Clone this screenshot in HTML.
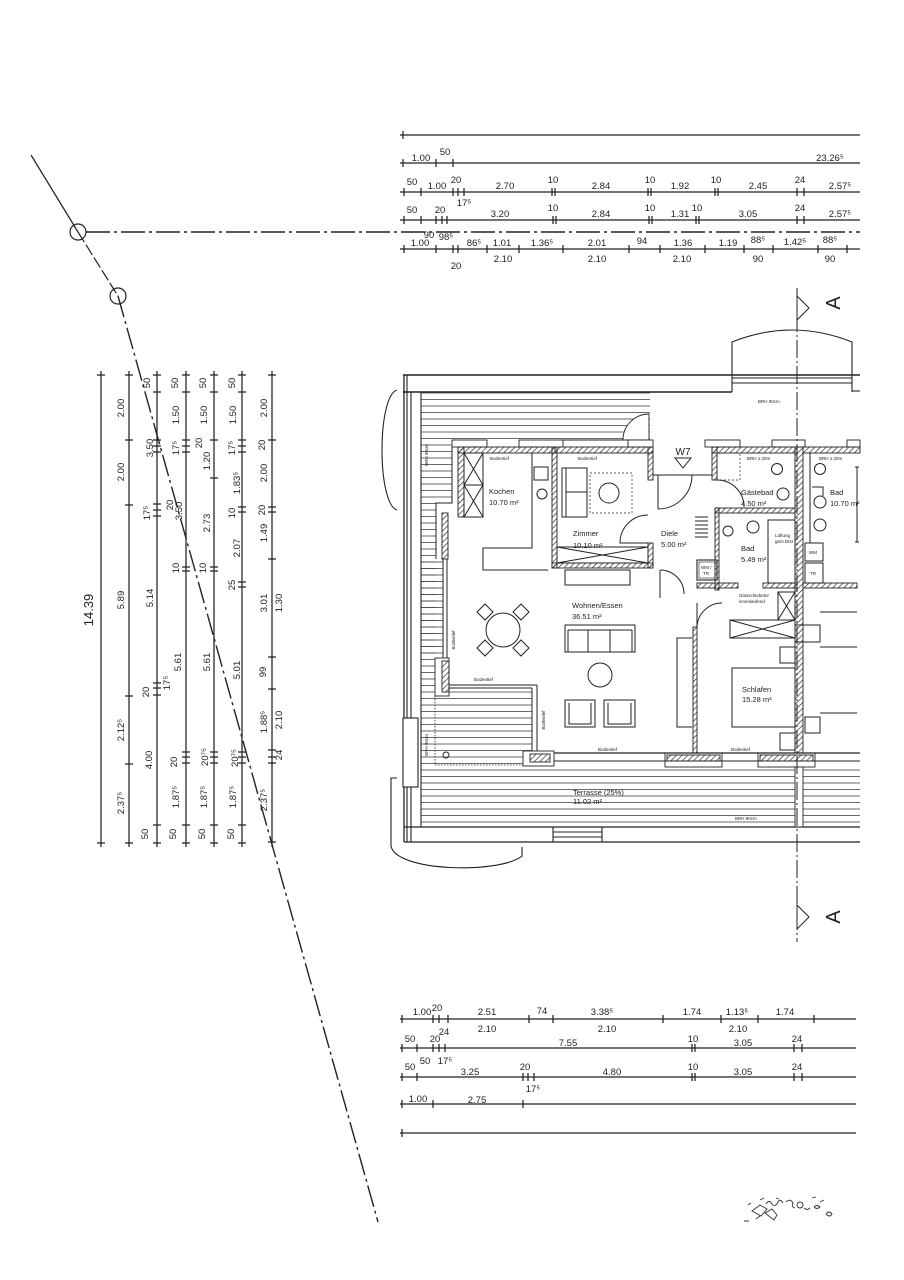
<!DOCTYPE html>
<html><head><meta charset="utf-8"><style>
html,body{margin:0;padding:0;background:#fff;}
svg{display:block;}
text{font-family:"Liberation Sans",sans-serif;fill:#222;}
.d{font-size:9.5px;text-anchor:middle;}
.r{font-size:7.5px;}
.s{font-size:4.5px;}
</style></head><body>
<svg width="904" height="1280" viewBox="0 0 904 1280" xmlns="http://www.w3.org/2000/svg">
<defs>
<pattern id="dh" width="4" height="4" patternUnits="userSpaceOnUse" patternTransform="rotate(45)"><line x1="0" y1="0" x2="0" y2="4" stroke="#222" stroke-width="1.3"/></pattern>
<pattern id="hl" width="8" height="6.5" patternUnits="userSpaceOnUse"><line x1="0" y1="3" x2="8" y2="3" stroke="#444" stroke-width="0.8"/></pattern>
</defs>
<rect width="904" height="1280" fill="#fff"/>

<!-- diagonal reference line -->
<g stroke="#222" fill="none" stroke-width="1.2">
<line x1="31" y1="155" x2="78" y2="232"/>
<circle cx="78" cy="232" r="8"/>
<line x1="78" y1="232" x2="118" y2="296" stroke-dasharray="12 3"/>
<circle cx="118" cy="296" r="8"/>
<line x1="118" y1="296" x2="378" y2="1222" stroke-width="1.4" stroke-dasharray="22 4 3 4"/>
<line x1="86" y1="232" x2="860" y2="232" stroke-width="1.5" stroke-dasharray="24 4 3 4"/>
</g>

<!-- top dimension lines -->
<g stroke="#222" fill="none" stroke-width="1.25">
<line x1="400" y1="135" x2="860" y2="135"/>
<line x1="400" y1="163" x2="860" y2="163"/>
<line x1="400" y1="192" x2="860" y2="192"/>
<line x1="400" y1="220" x2="860" y2="220"/>
<line x1="400" y1="249" x2="860" y2="249"/>
<path d="M403 131v8"/>
<path d="M403 159v8M436 159v8M453 159v8"/>
<path d="M404 188v8M421 188v8M453 188v8M458 188v8M464 188v8M552 188v8M555 188v8M648 188v8M651 188v8M715 188v8M718 188v8M797 188v8M804 188v8"/>
<path d="M404 216v8M421 216v8M436 216v8M442 216v8M447 216v8M553 216v8M556 216v8M649 216v8M652 216v8M696 216v8M699 216v8M797 216v8M804 216v8"/>
<path d="M404 245v8M436 245v8M453 245v8M458 245v8M487 245v8M519 245v8M563 245v8M629 245v8M660 245v8M705 245v8M744 245v8M773 245v8M818 245v8M847 245v8"/>
</g>
<g class="d">
<text class="d" x="421" y="161">1.00</text><text class="d" x="445" y="155">50</text><text class="d" x="830" y="161">23.26⁵</text>
<text class="d" x="412" y="185">50</text><text class="d" x="437" y="189">1.00</text><text class="d" x="456" y="183">20</text><text class="d" x="464" y="206">17⁵</text><text class="d" x="505" y="189">2.70</text><text class="d" x="553" y="183">10</text><text class="d" x="601" y="189">2.84</text><text class="d" x="650" y="183">10</text><text class="d" x="680" y="189">1.92</text><text class="d" x="716" y="183">10</text><text class="d" x="758" y="189">2.45</text><text class="d" x="800" y="183">24</text><text class="d" x="840" y="189">2.57⁵</text>
<text class="d" x="412" y="213">50</text><text class="d" x="440" y="213">20</text><text class="d" x="500" y="217">3.20</text><text class="d" x="553" y="211">10</text><text class="d" x="601" y="217">2.84</text><text class="d" x="650" y="211">10</text><text class="d" x="680" y="217">1.31</text><text class="d" x="697" y="211">10</text><text class="d" x="748" y="217">3.05</text><text class="d" x="800" y="211">24</text><text class="d" x="840" y="217">2.57⁵</text>
<text class="d" x="429" y="238">90</text><text class="d" x="446" y="240">98⁵</text>
<text class="d" x="420" y="246">1.00</text><text class="d" x="474" y="246">86⁵</text><text class="d" x="502" y="246">1.01</text><text class="d" x="542" y="246">1.36⁵</text><text class="d" x="597" y="246">2.01</text><text class="d" x="642" y="244">94</text><text class="d" x="683" y="246">1.36</text><text class="d" x="728" y="246">1.19</text><text class="d" x="758" y="243">88⁵</text><text class="d" x="795" y="245">1.42⁵</text><text class="d" x="830" y="243">88⁵</text>
<text class="d" x="456" y="269">20</text><text class="d" x="503" y="262">2.10</text><text class="d" x="597" y="262">2.10</text><text class="d" x="682" y="262">2.10</text><text class="d" x="758" y="262">90</text><text class="d" x="830" y="262">90</text>
</g>

<!-- left vertical dimension lines -->
<g stroke="#222" fill="none" stroke-width="1.25">
<line x1="101" y1="371" x2="101" y2="847"/>
<line x1="129" y1="371" x2="129" y2="847"/>
<line x1="157" y1="371" x2="157" y2="847"/>
<line x1="186" y1="371" x2="186" y2="847"/>
<line x1="214" y1="371" x2="214" y2="847"/>
<line x1="242" y1="371" x2="242" y2="847"/>
<line x1="272" y1="371" x2="272" y2="847"/>
<path d="M97 375h8M97 843h8"/>
<path d="M125 375h8M125 440h8M125 505h8M125 696h8M125 764h8M125 843h8"/>
<path d="M153 375h8M153 392h8M153 440h8M153 446h8M153 452h8M153 504h8M153 510h8M153 516h8M153 683h8M153 688h8M153 695h8M153 825h8M153 843h8"/>
<path d="M182 375h8M182 392h8M182 440h8M182 446h8M182 452h8M182 567h8M182 571h8M182 752h8M182 757h8M182 763h8M182 825h8M182 843h8"/>
<path d="M210 375h8M210 392h8M210 440h8M210 478h8M210 567h8M210 571h8M210 752h8M210 757h8M210 763h8M210 825h8M210 843h8"/>
<path d="M238 375h8M238 392h8M238 440h8M238 446h8M238 452h8M238 507h8M238 512h8M238 582h8M238 587h8M238 752h8M238 757h8M238 763h8M238 825h8M238 843h8"/>
<path d="M268 375h8M268 440h8M268 507h8M268 512h8M268 559h8M268 657h8M268 689h8M268 750h8M268 757h8M268 763h8M268 842h8"/>
</g>
<g>
<text class="d" style="font-size:13px" transform="translate(89,610) rotate(-90)" y="4">14.39</text>
<text class="d" transform="translate(121,408) rotate(-90)" y="3">2.00</text>
<text class="d" transform="translate(121,472) rotate(-90)" y="3">2.00</text>
<text class="d" transform="translate(121,600) rotate(-90)" y="3">5.89</text>
<text class="d" transform="translate(121,730) rotate(-90)" y="3">2.12⁵</text>
<text class="d" transform="translate(121,803) rotate(-90)" y="3">2.37⁵</text>

<text class="d" transform="translate(147,383) rotate(-90)" y="3">50</text>
<text class="d" transform="translate(150,448) rotate(-90)" y="3">3.50</text>
<text class="d" transform="translate(147,513) rotate(-90)" y="3">17⁵</text>
<text class="d" transform="translate(150,598) rotate(-90)" y="3">5.14</text>
<text class="d" transform="translate(146,692) rotate(-90)" y="3">20</text>
<text class="d" transform="translate(167,683) rotate(-90)" y="3">17⁵</text>
<text class="d" transform="translate(149,760) rotate(-90)" y="3">4.00</text>
<text class="d" transform="translate(145,834) rotate(-90)" y="3">50</text>

<text class="d" transform="translate(175,383) rotate(-90)" y="3">50</text>
<text class="d" transform="translate(176,415) rotate(-90)" y="3">1.50</text>
<text class="d" transform="translate(176,448) rotate(-90)" y="3">17⁵</text>
<text class="d" transform="translate(170,505) rotate(-90)" y="3">20</text>
<text class="d" transform="translate(179,511) rotate(-90)" y="3">3.50</text>
<text class="d" transform="translate(176,568) rotate(-90)" y="3">10</text>
<text class="d" transform="translate(178,662) rotate(-90)" y="3">5.61</text>
<text class="d" transform="translate(174,762) rotate(-90)" y="3">20</text>
<text class="d" transform="translate(176,797) rotate(-90)" y="3">1.87⁵</text>
<text class="d" transform="translate(173,834) rotate(-90)" y="3">50</text>

<text class="d" transform="translate(203,383) rotate(-90)" y="3">50</text>
<text class="d" transform="translate(204,415) rotate(-90)" y="3">1.50</text>
<text class="d" transform="translate(199,443) rotate(-90)" y="3">20</text>
<text class="d" transform="translate(207,461) rotate(-90)" y="3">1.20</text>
<text class="d" transform="translate(207,523) rotate(-90)" y="3">2.73</text>
<text class="d" transform="translate(203,568) rotate(-90)" y="3">10</text>
<text class="d" transform="translate(207,662) rotate(-90)" y="3">5.61</text>
<text class="d" transform="translate(205,757) rotate(-90)" y="3">20⁷⁵</text>
<text class="d" transform="translate(204,797) rotate(-90)" y="3">1.87⁵</text>
<text class="d" transform="translate(202,834) rotate(-90)" y="3">50</text>

<text class="d" transform="translate(232,383) rotate(-90)" y="3">50</text>
<text class="d" transform="translate(233,415) rotate(-90)" y="3">1.50</text>
<text class="d" transform="translate(232,448) rotate(-90)" y="3">17⁵</text>
<text class="d" transform="translate(237,483) rotate(-90)" y="3">1.83⁵</text>
<text class="d" transform="translate(232,513) rotate(-90)" y="3">10</text>
<text class="d" transform="translate(237,548) rotate(-90)" y="3">2.07</text>
<text class="d" transform="translate(232,585) rotate(-90)" y="3">25</text>
<text class="d" transform="translate(237,670) rotate(-90)" y="3">5.01</text>
<text class="d" transform="translate(235,758) rotate(-90)" y="3">20⁷⁵</text>
<text class="d" transform="translate(233,797) rotate(-90)" y="3">1.87⁵</text>
<text class="d" transform="translate(231,834) rotate(-90)" y="3">50</text>

<text class="d" transform="translate(264,408) rotate(-90)" y="3">2.00</text>
<text class="d" transform="translate(262,445) rotate(-90)" y="3">20</text>
<text class="d" transform="translate(264,473) rotate(-90)" y="3">2.00</text>
<text class="d" transform="translate(262,510) rotate(-90)" y="3">20</text>
<text class="d" transform="translate(264,533) rotate(-90)" y="3">1.49</text>
<text class="d" transform="translate(264,603) rotate(-90)" y="3">3.01</text>
<text class="d" transform="translate(279,603) rotate(-90)" y="3">1.30</text>
<text class="d" transform="translate(263,672) rotate(-90)" y="3">99</text>
<text class="d" transform="translate(264,722) rotate(-90)" y="3">1.88⁵</text>
<text class="d" transform="translate(279,720) rotate(-90)" y="3">2.10</text>
<text class="d" transform="translate(279,755) rotate(-90)" y="3">24</text>
<text class="d" transform="translate(264,800) rotate(-90)" y="3">2.37⁵</text>
</g>

<!-- ===== FLOOR PLAN ===== -->
<!-- terrace hatching -->
<rect x="421" y="392" width="229" height="48" fill="url(#hl)"/>
<rect x="421" y="440" width="31" height="63" fill="url(#hl)"/>
<rect x="421" y="503" width="15" height="188" fill="url(#hl)"/>
<rect x="421" y="559" width="22" height="99" fill="url(#hl)"/>
<rect x="421" y="688" width="111" height="79" fill="url(#hl)"/>
<rect x="421" y="767" width="439" height="60" fill="url(#hl)"/>
<path d="M649 440 L623 440 A26 26 0 0 1 649 414 Z" fill="#fff" stroke="#222" stroke-width="0.9"/>

<g stroke="#222" fill="none" stroke-width="1.1">
<!-- top band -->
<line x1="403" y1="375" x2="860" y2="375" stroke-width="1.4"/>
<line x1="403" y1="392" x2="732" y2="392" stroke-width="1.4"/>
<line x1="852" y1="391" x2="860" y2="391"/>
<path d="M732 392 V342 Q792 318 852 342 V392"/>
<line x1="732" y1="378" x2="852" y2="378"/>
<line x1="732" y1="383" x2="852" y2="383"/>
<!-- left band -->
<line x1="404" y1="375" x2="404" y2="842" stroke-width="1.3"/>
<line x1="407" y1="375" x2="407" y2="842"/>
<line x1="411" y1="392" x2="411" y2="842"/>
<line x1="421" y1="392" x2="421" y2="827"/>
<rect x="403" y="718" width="15" height="69" fill="#fff"/>
<path d="M397 390 C377 396, 377 504, 397 510"/>
<!-- bottom band -->
<line x1="404" y1="827" x2="860" y2="827" stroke-width="1.3"/>
<line x1="404" y1="842" x2="860" y2="842" stroke-width="1.3"/>
<line x1="553" y1="832" x2="602" y2="832"/>
<line x1="553" y1="837" x2="602" y2="837"/>
<line x1="553" y1="827" x2="553" y2="842"/>
<line x1="602" y1="827" x2="602" y2="842"/>
<path d="M397 778 H391 V846 C396 872, 500 874, 522 856 V847"/>
</g>

<!-- walls -->
<g stroke="#222" stroke-width="0.9">
<rect x="452" y="440" width="35" height="7" fill="#fff"/>
<rect x="519" y="440" width="44" height="7" fill="#fff"/>
<rect x="628" y="440" width="25" height="7" fill="#fff"/>
<rect x="705" y="440" width="35" height="7" fill="#fff"/>
<rect x="772" y="440" width="33" height="7" fill="#fff"/>
<rect x="847" y="440" width="13" height="7" fill="#fff"/>
<rect x="458" y="447" width="97" height="6" fill="url(#dh)"/>
<rect x="458" y="447" width="6" height="70" fill="url(#dh)"/>
<rect x="442" y="513" width="6" height="46" fill="url(#dh)"/>
<rect x="552" y="447" width="5" height="121" fill="url(#dh)"/>
<rect x="555" y="447" width="98" height="6" fill="url(#dh)"/>
<rect x="648" y="447" width="5" height="33" fill="url(#dh)"/>
<rect x="648" y="543" width="5" height="25" fill="url(#dh)"/>
<rect x="552" y="563" width="101" height="5" fill="url(#dh)"/>
<rect x="712" y="447" width="5" height="33" fill="url(#dh)"/>
<rect x="712" y="447" width="85" height="6" fill="url(#dh)"/>
<rect x="803" y="447" width="57" height="6" fill="url(#dh)"/>
<rect x="795" y="447" width="8" height="310" fill="url(#dh)"/>
<rect x="715" y="508" width="80" height="5" fill="url(#dh)"/>
<rect x="715" y="508" width="4" height="82" fill="url(#dh)"/>
<rect x="697" y="583" width="41" height="5" fill="url(#dh)"/>
<rect x="763" y="583" width="34" height="5" fill="url(#dh)"/>
<rect x="803" y="583" width="54" height="5" fill="url(#dh)"/>
<rect x="693" y="627" width="4" height="126" fill="url(#dh)"/>
<rect x="435" y="658" width="14" height="38" fill="#fff"/>
<rect x="442" y="661" width="7" height="31" fill="url(#dh)"/>
<rect x="523" y="751" width="31" height="15" fill="#fff"/>
<rect x="530" y="754" width="20" height="8" fill="url(#dh)"/>
<rect x="665" y="753" width="57" height="14" fill="#fff"/>
<rect x="667" y="755" width="53" height="6" fill="url(#dh)"/>
<rect x="758" y="753" width="57" height="14" fill="#fff"/>
<rect x="760" y="755" width="53" height="6" fill="url(#dh)"/>
<rect x="795" y="767" width="8" height="60" fill="#fff"/>
</g>
<g stroke="#222" fill="none" stroke-width="1">
<path d="M452 447 V503 H436 V559"/>
<line x1="443" y1="559" x2="443" y2="658"/>
<line x1="447" y1="559" x2="447" y2="658"/>
<line x1="449" y1="685" x2="537" y2="685"/>
<line x1="449" y1="688" x2="532" y2="688"/>
<line x1="532" y1="688" x2="532" y2="751"/>
<line x1="537" y1="685" x2="537" y2="751"/>
<line x1="554" y1="753" x2="860" y2="753" stroke-width="1.3"/>
<line x1="554" y1="761" x2="860" y2="761"/>
<line x1="563" y1="440" x2="628" y2="440"/>
<!-- kitchen -->
<rect x="464" y="453" width="19" height="32"/><path d="M464 453 L483 485 M483 453 L464 485"/>
<rect x="464" y="485" width="19" height="32"/><path d="M464 485 L483 517 M483 485 L464 517"/>
<path d="M532 453 V548 H483 V570 H548"/>
<rect x="534" y="467" width="14" height="13"/>
<circle cx="542" cy="494" r="5"/>
<!-- zimmer -->
<rect x="562" y="468" width="25" height="49"/><line x1="566" y1="492" x2="587" y2="492"/><line x1="566" y1="468" x2="566" y2="517"/>
<rect x="590" y="473" width="42" height="40" stroke-dasharray="2 2" stroke-width="0.7"/>
<circle cx="609" cy="493" r="10"/>
<rect x="557" y="547" width="91" height="16"/><path d="M557 547 L648 563 M648 547 L557 563"/>
<rect x="565" y="570" width="65" height="15"/>
<path d="M648 543 H620 A28 28 0 0 1 648 515"/>
<!-- entrance -->
<line x1="653" y1="475" x2="712" y2="475"/>
<line x1="658" y1="475" x2="658" y2="509"/>
<path d="M658 509 A34 34 0 0 0 692 475"/>
<path d="M660 570 A24 24 0 0 1 684 594"/>
<line x1="660" y1="570" x2="660" y2="598"/>
<!-- gaestebad -->
<rect x="717" y="453" width="23" height="27" stroke-dasharray="2 2" stroke-width="0.7"/>
<path d="M717 480 A27 27 0 0 1 744 507"/>
<circle cx="777" cy="469" r="5.5"/>
<circle cx="783" cy="494" r="6"/>
<!-- bad 5.49 -->
<path d="M695 517h13M695 521h13M695 525h13M695 529h13M695 533h13M695 537h13"/>
<circle cx="728" cy="531" r="5"/>
<circle cx="753" cy="527" r="6"/>
<rect x="768" y="520" width="27" height="63"/>
<rect x="697" y="560" width="20" height="20" stroke-width="1.1"/>
<rect x="699" y="562" width="16" height="16" stroke-width="0.6"/>
<!-- bad 10.70 -->
<line x1="810" y1="453" x2="810" y2="543"/>
<circle cx="820" cy="469" r="5.5"/>
<circle cx="820" cy="502" r="6"/>
<circle cx="820" cy="525" r="6"/>
<path d="M812 487 H823 V496"/>
<path d="M855 467 h4 M857 467 V542 M855 542 h4"/>
<rect x="805" y="543" width="18" height="18"/>
<rect x="805" y="563" width="18" height="20"/>
<!-- schlafen -->
<path d="M697 628 A25 25 0 0 1 722 603"/>
<line x1="697" y1="603" x2="697" y2="628"/>
<rect x="778" y="592" width="17" height="28"/><path d="M778 592 L795 620 M795 592 L778 620"/>
<rect x="730" y="620" width="65" height="18"/><path d="M730 620 L795 638 M795 620 L730 638"/>
<rect x="795" y="625" width="25" height="17"/>
<rect x="780" y="647" width="15" height="16"/>
<rect x="732" y="668" width="63" height="59"/>
<rect x="780" y="733" width="15" height="17"/>
<rect x="805" y="717" width="15" height="16"/>
<path d="M820 612 H857 M820 647 H857 M820 713 H857"/>
<path d="M692 638 H677 V727 H692"/>
<!-- wohnen -->
<circle cx="503" cy="630" r="17"/>
<path d="M485 604 l8 8 l-8 8 l-8 -8 Z"/>
<path d="M521 604 l8 8 l-8 8 l-8 -8 Z"/>
<path d="M485 640 l8 8 l-8 8 l-8 -8 Z"/>
<path d="M521 640 l8 8 l-8 8 l-8 -8 Z"/>
<rect x="565" y="625" width="70" height="27"/>
<path d="M568 630 V652 M588 630 V652 M610 630 V652 M632 630 V652 M568 630 H632"/>
<circle cx="600" cy="675" r="12"/>
<rect x="565" y="700" width="30" height="27"/><path d="M569 703 V724 H591 V703"/>
<rect x="604" y="700" width="31" height="27"/><path d="M608 703 V724 H631 V703"/>
<!-- terrace details -->
<line x1="435" y1="696" x2="435" y2="765" stroke-dasharray="1.5 1.5" stroke-width="0.8"/>
<line x1="435" y1="765" x2="523" y2="765" stroke-dasharray="1.5 1.5" stroke-width="0.8"/>
<circle cx="446" cy="755" r="3"/>
<!-- section line -->
<line x1="797" y1="288" x2="797" y2="942" stroke-dasharray="18 3 2 3" stroke-width="1"/>
<path d="M797 296 L809 308 L797 320 Z" fill="#fff"/>
<path d="M797 905 L809 917 L797 929 Z" fill="#fff"/>
</g>
<text style="font-size:20px" transform="translate(833,303) rotate(-90)" text-anchor="middle" y="7">A</text>
<text style="font-size:20px" transform="translate(833,917) rotate(-90)" text-anchor="middle" y="7">A</text>

<!-- room labels -->
<g>
<text class="r" x="489" y="494">Kochen</text><text class="r" x="489" y="505">10.70 m²</text>
<text class="r" x="573" y="536">Zimmer</text><text class="r" x="573" y="548">10.10 m²</text>
<text class="r" x="661" y="536">Diele</text><text class="r" x="661" y="547">5.00 m²</text>
<text class="r" x="741" y="495">Gästebad</text><text class="r" x="741" y="506">4.50 m²</text>
<text class="r" x="741" y="551">Bad</text><text class="r" x="741" y="562">5.49 m²</text>
<text class="r" x="830" y="495">Bad</text><text class="r" x="830" y="506">10.70 m²</text>
<text class="r" x="572" y="608">Wohnen/Essen</text><text class="r" x="572" y="619">36.51 m²</text>
<text class="r" x="742" y="692">Schlafen</text><text class="r" x="742" y="702">15.28 m²</text>
<text class="r" x="573" y="795">Terrasse (25%)</text><text class="r" x="573" y="804">11.02 m²</text>
<text style="font-size:10px" x="683" y="455" text-anchor="middle">W7</text>
<path d="M675 458 L691 458 L683 468 Z" fill="none" stroke="#222" stroke-width="1"/>
<text class="s" x="758" y="403">BRH 90cm</text>
<text class="s" x="490" y="460">Bodentief</text>
<text class="s" x="578" y="460">Bodentief</text>
<text class="s" x="474" y="681">Bodentief</text>
<text class="s" x="598" y="751">Bodentief</text>
<text class="s" x="731" y="751">Bodentief</text>
<text class="s" x="735" y="820">BRH 90cm</text>
<text class="s" x="747" y="460">BRH 1.20m</text>
<text class="s" x="819" y="460">BRH 1.20m</text>
<text class="s" x="775" y="537">Lüftung</text>
<text class="s" x="775" y="543">gem.DIN</text>
<text class="s" x="739" y="597">Glasschiebetür</text>
<text class="s" x="739" y="603">innenlaufend</text>
<text class="s" x="701" y="569">WM /</text>
<text class="s" x="703" y="575">TR</text>
<text class="s" x="809" y="554">WM</text>
<text class="s" x="810" y="575">TR</text>
<text class="s" transform="translate(428,455) rotate(-90)" text-anchor="middle">BRH 90cm</text>
<text class="s" transform="translate(428,745) rotate(-90)" text-anchor="middle">BRH 90cm</text>
<text class="s" transform="translate(455,640) rotate(-90)" text-anchor="middle">Bodentief</text>
<text class="s" transform="translate(545,720) rotate(-90)" text-anchor="middle">Bodentief</text>
</g>

<!-- bottom dimension lines -->
<g stroke="#222" fill="none" stroke-width="1.25">
<line x1="400" y1="1019" x2="856" y2="1019"/>
<line x1="400" y1="1048" x2="856" y2="1048"/>
<line x1="400" y1="1077" x2="856" y2="1077"/>
<line x1="400" y1="1104" x2="856" y2="1104"/>
<line x1="400" y1="1133" x2="856" y2="1133"/>
<path d="M402 1015v8M433 1015v8M439 1015v8M448 1015v8M529 1015v8M553 1015v8M663 1015v8M721 1015v8M758 1015v8M814 1015v8"/>
<path d="M402 1044v8M417 1044v8M433 1044v8M439 1044v8M445 1044v8M692 1044v8M695 1044v8M794 1044v8M802 1044v8"/>
<path d="M402 1073v8M417 1073v8M523 1073v8M528 1073v8M534 1073v8M692 1073v8M695 1073v8M794 1073v8M802 1073v8"/>
<path d="M402 1100v8M433 1100v8M523 1100v8"/>
<path d="M402 1129v8"/>
</g>
<g>
<text class="d" x="422" y="1015">1.00</text><text class="d" x="437" y="1011">20</text><text class="d" x="487" y="1015">2.51</text><text class="d" x="542" y="1014">74</text><text class="d" x="602" y="1015">3.38⁵</text><text class="d" x="692" y="1015">1.74</text><text class="d" x="737" y="1015">1.13⁵</text><text class="d" x="785" y="1015">1.74</text>
<text class="d" x="487" y="1032">2.10</text><text class="d" x="607" y="1032">2.10</text><text class="d" x="738" y="1032">2.10</text>
<text class="d" x="410" y="1042">50</text><text class="d" x="435" y="1042">20</text><text class="d" x="444" y="1035">24</text><text class="d" x="568" y="1046">7.55</text><text class="d" x="693" y="1042">10</text><text class="d" x="743" y="1046">3.05</text><text class="d" x="797" y="1042">24</text>
<text class="d" x="410" y="1070">50</text><text class="d" x="425" y="1064">50</text><text class="d" x="445" y="1064">17⁵</text><text class="d" x="470" y="1075">3.25</text><text class="d" x="525" y="1070">20</text><text class="d" x="533" y="1092">17⁵</text><text class="d" x="612" y="1075">4.80</text><text class="d" x="693" y="1070">10</text><text class="d" x="743" y="1075">3.05</text><text class="d" x="797" y="1070">24</text>
<text class="d" x="418" y="1102">1.00</text><text class="d" x="477" y="1103">2.75</text>
</g>

<!-- stamp scribble -->
<g stroke="#333" fill="none" stroke-width="0.9">
<path d="M752 1211 l8 -6 l7 4 l-6 7 z"/>
<path d="M765 1213 l7 -4 l5 6 l-3 5 z"/>
<path d="M766 1204 q3 -5 6 0 q3 4 6 -2 q2 -4 5 1"/>
<path d="M786 1202 q4 -4 7 1 q-2 4 2 5"/>
<circle cx="800" cy="1205" r="3"/>
<path d="M804 1208 q3 3 6 0"/>
<path d="M814 1207 q3 -3 6 0 q-3 3 -6 0"/>
<path d="M826 1214 q3 -4 6 0 q-2 4 -6 0"/>
<path d="M744 1221 h5 M756 1219 l4 -3 M820 1202 l4 -2 M812 1198 l4 -1 M748 1205 l3 -2 M760 1200 l4 -2 M776 1198 l3 1"/>
</g>
</svg>
</body></html>
